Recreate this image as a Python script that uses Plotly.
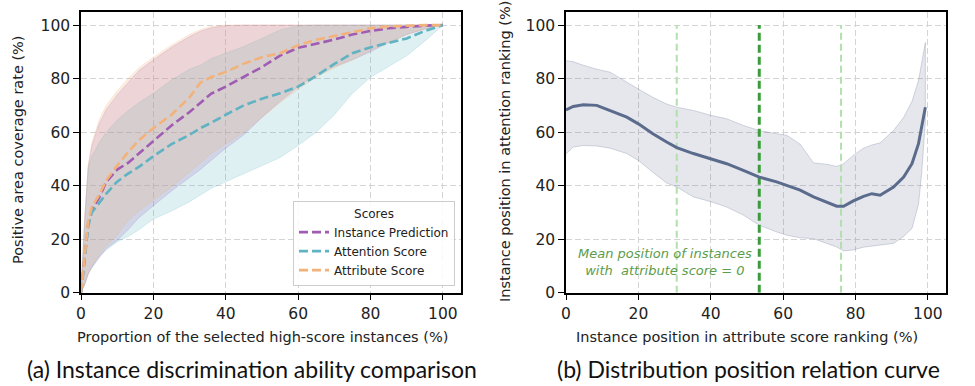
import plotly.graph_objects as go

# ---- left panel: coverage curves (mean + band) ----
prop_x = [0, 1, 2, 3, 5, 7, 10, 13, 16, 20, 25, 30, 33, 36, 40, 45, 50, 55, 60, 65, 70, 75, 80, 85, 90, 95, 100]

inst_mean = [0, 13, 26, 31, 35.5, 41.5, 46, 48.5, 52, 57, 62.5, 67.5, 71, 74.4, 77, 80.6, 84.3, 88.6, 91.5, 93, 94.6, 96.5, 97.8, 98.8, 99.4, 99.8, 100]
inst_upper = [0, 27, 47, 55, 63, 68.5, 74, 78.7, 83, 87, 91.7, 95.7, 97.7, 99, 99.8, 100, 100, 100, 100, 100, 100, 100, 100, 100, 100, 100, 100]
inst_lower = [0, 3, 7, 9.5, 13, 16.5, 19.5, 23.5, 28, 32.5, 38, 43, 46, 49.5, 54, 59, 65.5, 71.5, 77, 81.5, 84.5, 87, 90, 93.5, 96.5, 98.5, 100]

attn_mean = [0, 12, 25, 30, 33.5, 37, 41.5, 44.5, 47, 51, 55.5, 59, 61.5, 63.5, 66.5, 70, 72.5, 74.5, 77, 81, 85.5, 89.5, 91.7, 93.3, 95, 97.8, 100]
attn_upper = [0, 27, 47, 51, 56, 60, 64.5, 68, 71, 74.5, 79.5, 83.5, 85, 87.5, 89.5, 92, 95, 98.2, 99.7, 100, 100, 100, 100, 100, 100, 100, 100]
attn_lower = [0, 3, 7, 9.5, 13.5, 16, 19, 21, 23.5, 27.5, 30.5, 34, 36.5, 39, 41.5, 44.5, 47.5, 50.5, 55, 60, 66.5, 74.5, 80.5, 84.5, 88.5, 94, 100]

attr_mean = [0, 14, 27, 32, 36.5, 42, 47.5, 52.5, 57, 61.5, 66.5, 73, 78.5, 80.6, 82.5, 85.6, 88, 89.5, 92.5, 94.5, 96, 97.5, 98.8, 99.5, 99.8, 100, 100]
attr_upper = [0, 28, 48, 56, 64.5, 70, 75.5, 80, 84, 88, 92.5, 96.5, 98.3, 99.5, 100, 100, 100, 100, 100, 100, 100, 100, 100, 100, 100, 100, 100]
attr_lower = [0, 3, 7, 10, 14, 17.5, 21.5, 27, 30.5, 34.5, 39.5, 45, 48.5, 52, 55.5, 60, 65.5, 71, 76, 80.5, 84, 87, 90.5, 93.5, 96.5, 98.5, 100]

series_names = ["Instance Prediction", "Attention Score", "Attribute Score"]

# ---- right panel: position relation ----
rank_x = [0, 2, 4.8, 8.5, 12.2, 16.8, 20, 24, 27.8, 30.6, 35.2, 40.3, 44.4, 49, 53.4, 58.2, 61, 64.7, 68.4, 72,
          74.8, 76.7, 79.4, 82.2, 84.5, 86.8, 90.5, 93.3, 95.6, 97.4, 98.3, 99.3]
rank_mean = [68.3, 69.6, 70.2, 70, 68, 65.6, 63.1, 59.4, 56.3, 54.2, 52, 50, 48.2, 45.7, 43.2, 41.4, 40.1, 38.3, 35.8, 33.9,
             32.3, 32.3, 34.3, 36, 37, 36.4, 39.5, 43.2, 48.2, 55.7, 61.9, 69.3]
rank_upper = [86.7, 86.3, 85, 83.5, 82.4, 78.6, 76.1, 73, 70.5, 69.3, 68.1, 66.2, 65, 62.5, 60.6, 59.4, 58.8, 55.5, 48.5, 48,
              47.2, 48.2, 51.3, 54, 55.2, 56, 60.6, 65.5, 71.5, 79.3, 86, 93.5]
rank_lower = [51.9, 54.4, 55, 54.8, 54, 52, 49.4, 45, 41, 39.5, 35.8, 33.9, 32, 29, 25.2, 22.7, 21.5, 20.5, 20.2, 18.4,
              17.1, 15.6, 16, 17, 17.5, 17.8, 18.4, 21, 24, 33, 45, 64]
zero_score_pos = [30.6, 53.4, 76.0]   # -std, mean, +std
v_span = [0, 100]

purple, teal, orange = "#a05cb2", "#5fb3c2", "#f2b27a"
band_fill = ["rgba(160,92,178,0.2)", "rgba(95,179,194,0.2)", "rgba(242,178,122,0.22)"]
slate = "#5b6b8c"

fig = go.Figure()

groups = [
    (inst_mean, inst_upper, inst_lower, purple, band_fill[0]),
    (attn_mean, attn_upper, attn_lower, teal, band_fill[1]),
    (attr_mean, attr_upper, attr_lower, orange, band_fill[2]),
]
for mean, up, lo, col, fc in groups:
    fig.add_trace(go.Scatter(x=prop_x + prop_x[::-1], y=up + lo[::-1], fill="toself",
                             fillcolor=fc, line=dict(color=fc, width=1),
                             mode="lines", showlegend=False, hoverinfo="skip"))
for (mean, up, lo, col, fc), name in zip(groups, series_names):
    fig.add_trace(go.Scatter(x=prop_x, y=mean, mode="lines", name=name,
                             line=dict(color=col, width=2.6, dash="9px,4px")))

# right panel
fig.add_trace(go.Scatter(x=rank_x + rank_x[::-1], y=rank_upper + rank_lower[::-1], fill="toself",
                         fillcolor="rgba(91,107,140,0.16)", line=dict(color="rgba(91,107,140,0.25)", width=1),
                         mode="lines", showlegend=False, hoverinfo="skip", xaxis="x2", yaxis="y2"))
for i, p in enumerate(zero_score_pos):
    dark = i == 1
    fig.add_trace(go.Scatter(x=[p, p], y=v_span, mode="lines", showlegend=False, hoverinfo="skip",
                             xaxis="x2", yaxis="y2",
                             line=dict(color="#3a9c3a" if dark else "#b3dfae", width=3 if dark else 2,
                                       dash="8px,4px" if dark else "7px,4px")))
fig.add_trace(go.Scatter(x=rank_x, y=rank_mean, mode="lines", showlegend=False,
                         line=dict(color=slate, width=3), xaxis="x2", yaxis="y2"))

tick_font = dict(family="DejaVu Sans", size=15.5, color="#222222")
ax = dict(range=[0, 105], tickvals=[0, 20, 40, 60, 80, 100], showline=True, linecolor="black",
          linewidth=1.5, mirror=True, ticks="outside", ticklen=6, tickwidth=1.3, tickcolor="black",
          showgrid=True, gridcolor="#d4d4d4", griddash="6px,3px", gridwidth=1, zeroline=False,
          tickfont=tick_font, fixedrange=True, automargin=False)
ydom = [1 - 292.7 / 386, 1 - 11.7 / 386]

fig.update_layout(
    width=975, height=386, margin=dict(l=0, r=0, t=0, b=0),
    paper_bgcolor="white", plot_bgcolor="white",
    xaxis=dict(ax, domain=[81 / 975, 461 / 975], anchor="y"),
    yaxis=dict(ax, domain=ydom, anchor="x"),
    xaxis2=dict(ax, domain=[566 / 975, 946 / 975], anchor="y2"),
    yaxis2=dict(ax, domain=ydom, anchor="x2"),
    legend=dict(x=455 / 975, y=1 - 286 / 386, xanchor="right", yanchor="bottom",
                bgcolor="rgba(255,255,255,0.85)", bordercolor="#cccccc", borderwidth=1,
                font=dict(family="DejaVu Sans", size=12, color="#222222"),
                title=dict(text="Scores", side="top center", font=dict(family="DejaVu Sans", size=12)),
                itemwidth=30, tracegroupgap=0),
    showlegend=True,
)

lab = dict(family="DejaVu Sans", size=14.5, color="#222222")
cap = dict(family="Lato", size=23, color="#111111")
notes = [
    dict(x=(81 + 443) / 2 / 975, y=1 - 337 / 386, text="Proportion of the selected high-score instances (%)", font=lab),
    dict(x=(566 + 928) / 2 / 975, y=1 - 337 / 386, text="Instance position in attribute score ranking (%)", font=lab),
    dict(x=18 / 975, y=1 - 150 / 386, text="Positive area coverage rate (%)", font=lab, textangle=-90),
    dict(x=505 / 975, y=1 - 152 / 386, text="Instance position in attention ranking (%)", font=lab, textangle=-90),
    dict(x=252 / 975, y=1 - 369 / 386, text="(a) Instance discrimination ability comparison", font=cap),
    dict(x=748 / 975, y=1 - 369 / 386, text="(b) Distribution position relation curve", font=cap),
]
for n in notes:
    fig.add_annotation(xref="paper", yref="paper", showarrow=False, xanchor="center", yanchor="middle", **n)

fig.add_annotation(xref="x2", yref="y2", x=27.4, y=11.6, showarrow=False,
                   text="<i>Mean position of instances<br>with  attribute score = 0</i>",
                   font=dict(family="DejaVu Sans", size=13, color="#5c9c4a"), align="center")

# drop the default 8px page margin so the figure sits at the window origin
fig.write_html("out.html", config={"displayModeBar": False},
               post_script="document.body.style.margin='0';")
